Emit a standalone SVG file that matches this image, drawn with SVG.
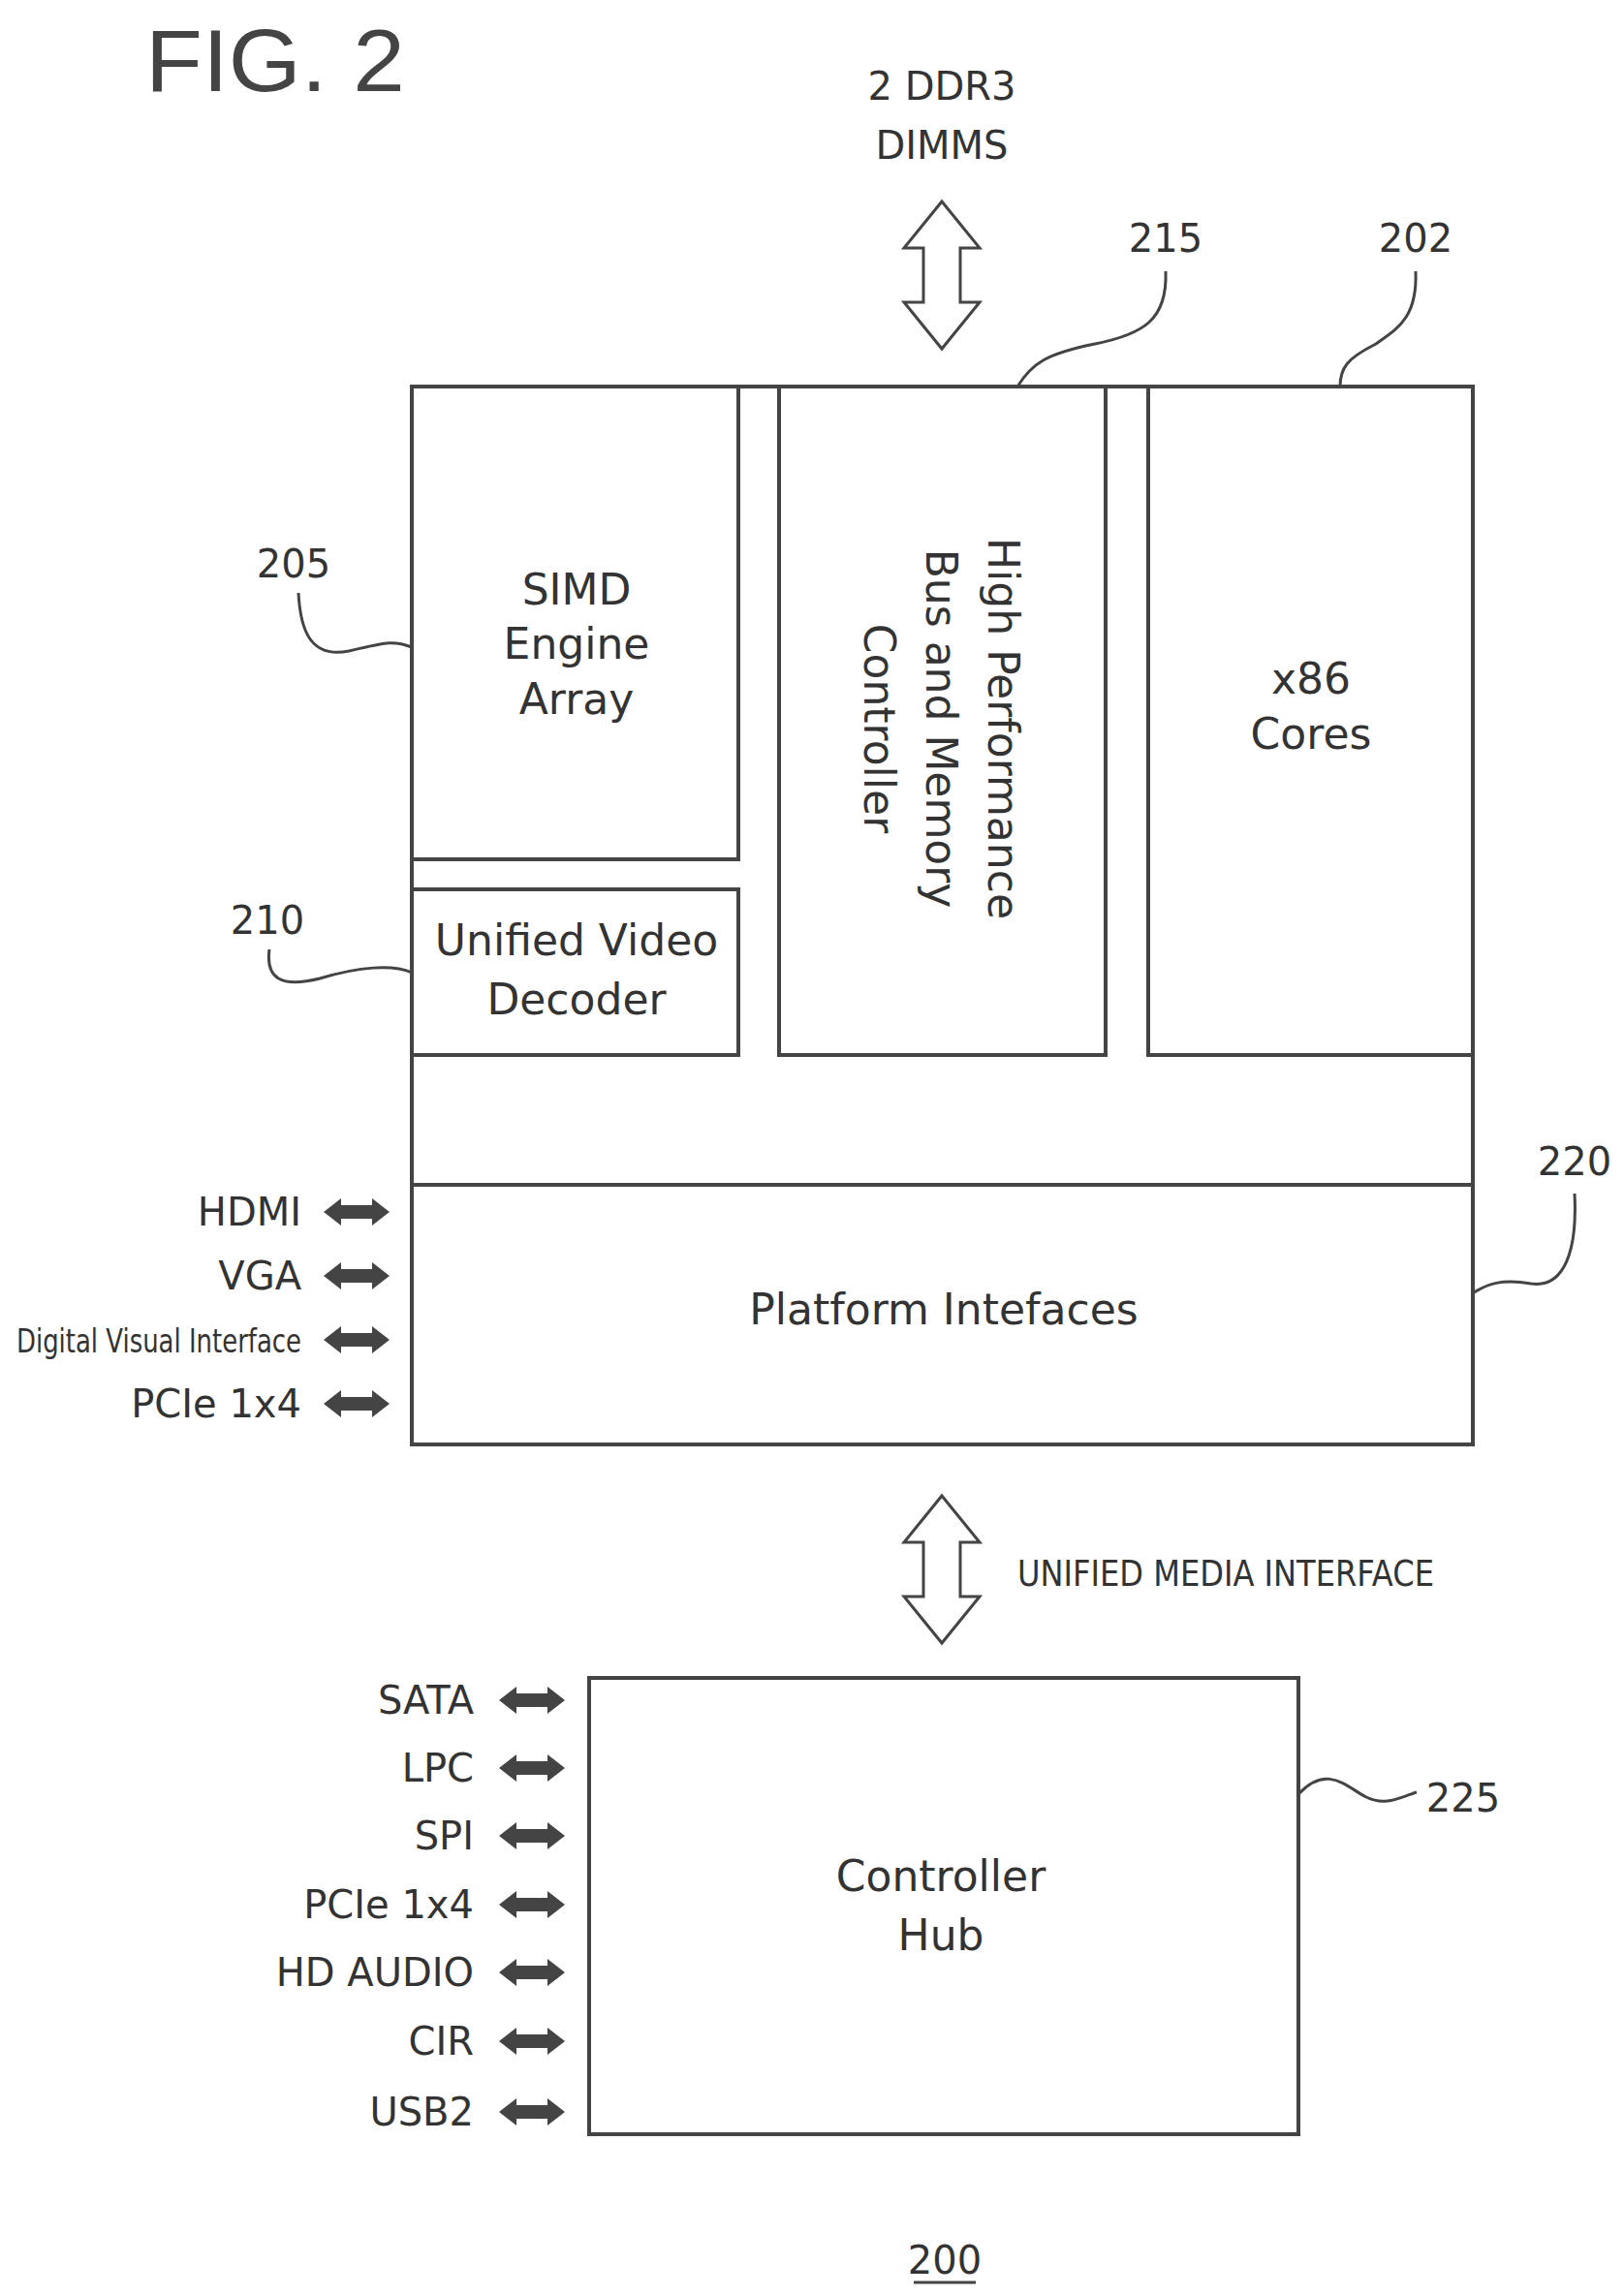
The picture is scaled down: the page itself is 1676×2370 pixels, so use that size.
<svg xmlns="http://www.w3.org/2000/svg" xmlns:xlink="http://www.w3.org/1999/xlink" width="1676" height="2370" viewBox="0 0 1676 2370">
<style>
text{font-family:"DejaVu Sans",sans-serif;fill:#333}
.t{font-size:44px;text-anchor:middle}
.l{font-size:40px;text-anchor:end}
.n{font-size:40px;text-anchor:middle}
.box{fill:none;stroke:#444;stroke-width:4}
.lead{fill:none;stroke:#444;stroke-width:3}
.big{fill:#fff;stroke:#444;stroke-width:3}
</style>
<defs>
<polygon id="dbl" points="0,0 18,-14 18,-7 50,-7 50,-14 68,0 50,14 50,7 18,7 18,14" fill="#444"/>
</defs>
<rect width="1676" height="2370" fill="#fff"/>
<text x="150" y="94" style="font-size:90px;font-family:'Liberation Sans',sans-serif;fill:#444" textLength="268" lengthAdjust="spacingAndGlyphs">FIG. 2</text>
<text class="t" x="972" y="103" style="font-size:40px">2 DDR3</text>
<text class="t" x="972" y="164" style="font-size:40px">DIMMS</text>
<g id="chip">
<rect class="box" x="425" y="399" width="1095" height="1092"/>
<line class="box" x1="425" y1="1223" x2="1520" y2="1223"/>
</g>
<g id="simd"><rect class="box" x="425" y="399" width="337" height="488"/>
<text class="t" x="595" y="624">SIMD</text><text class="t" x="595" y="680">Engine</text><text class="t" x="595" y="737">Array</text></g>
<g id="uvd"><rect class="box" x="425" y="918" width="337" height="171"/>
<text class="t" x="595" y="986">Unified Video</text><text class="t" x="595" y="1047">Decoder</text></g>
<g id="hpb"><rect class="box" x="804" y="399" width="337" height="690"/>
<g transform="translate(972,752) rotate(90)"><text class="t" x="0" y="-48">High Performance</text><text class="t" x="0" y="16">Bus and Memory</text><text class="t" x="0" y="80">Controller</text></g></g>
<g id="x86"><rect class="box" x="1185" y="399" width="335" height="690"/>
<text class="t" x="1353" y="716">x86</text><text class="t" x="1353" y="773">Cores</text></g>
<g id="platform"><text class="t" x="974" y="1367">Platform Intefaces</text></g>
<g id="hub"><rect class="box" x="608" y="1732" width="732" height="471"/>
<text class="t" x="971" y="1952">Controller</text><text class="t" x="971" y="2013">Hub</text></g>
<g id="connectors">
<polygon class="big" points="972,208 1011,256 991,256 991,312 1011,312 972,360 933,312 953,312 953,256 933,256"/>
<polygon class="big" points="972,1544 1011,1592 991,1592 991,1648 1011,1648 972,1696 933,1648 953,1648 953,1592 933,1592"/>
<use xlink:href="#dbl" x="334" y="1251"/><use xlink:href="#dbl" x="334" y="1317"/><use xlink:href="#dbl" x="334" y="1383"/><use xlink:href="#dbl" x="334" y="1449"/>
<use xlink:href="#dbl" x="515" y="1755"/><use xlink:href="#dbl" x="515" y="1825"/><use xlink:href="#dbl" x="515" y="1895"/><use xlink:href="#dbl" x="515" y="1966"/><use xlink:href="#dbl" x="515" y="2036"/><use xlink:href="#dbl" x="515" y="2107"/><use xlink:href="#dbl" x="515" y="2180"/>
<path class="lead" d="M1203,280 C1205,330 1180,345 1130,355 C1080,365 1065,375 1050,399"/>
<path class="lead" d="M1461,280 C1463,330 1440,340 1420,355 C1390,370 1383,380 1383,399"/>
<path class="lead" d="M308,612 C310,650 320,680 360,672 C395,664 405,660 425,668"/>
<path class="lead" d="M278,980 C274,1010 290,1020 330,1010 C370,998 405,995 425,1004"/>
<path class="lead" d="M1625,1232 C1628,1290 1615,1330 1580,1325 C1550,1320 1535,1325 1520,1335"/>
<path class="lead" d="M1340,1852 C1370,1820 1390,1845 1410,1855 C1430,1865 1445,1855 1462,1850"/>
</g>
<g id="labels">
<text class="l" x="311" y="1265">HDMI</text><text class="l" x="311" y="1331">VGA</text>
<text class="l" x="311" y="1396" style="font-size:34px" textLength="294" lengthAdjust="spacingAndGlyphs">Digital Visual Interface</text>
<text class="l" x="311" y="1463">PCIe 1x4</text>
<text class="l" x="489" y="1769">SATA</text><text class="l" x="489" y="1839">LPC</text><text class="l" x="489" y="1909">SPI</text><text class="l" x="489" y="1980">PCIe 1x4</text><text class="l" x="489" y="2050">HD AUDIO</text><text class="l" x="489" y="2121">CIR</text><text class="l" x="489" y="2194">USB2</text>
<text x="1050" y="1637" style="font-size:38px" textLength="430" lengthAdjust="spacingAndGlyphs">UNIFIED MEDIA INTERFACE</text>
<text class="n" x="1203" y="260">215</text><text class="n" x="1461" y="260">202</text>
<text class="n" x="303" y="596">205</text><text class="n" x="276" y="964">210</text>
<text class="n" x="1625" y="1213">220</text><text class="n" x="1510" y="1870">225</text>
<text class="n" x="975" y="2347">200</text>
<line x1="943" y1="2356" x2="1007" y2="2356" stroke="#444" stroke-width="3"/>
</g>
</svg>
